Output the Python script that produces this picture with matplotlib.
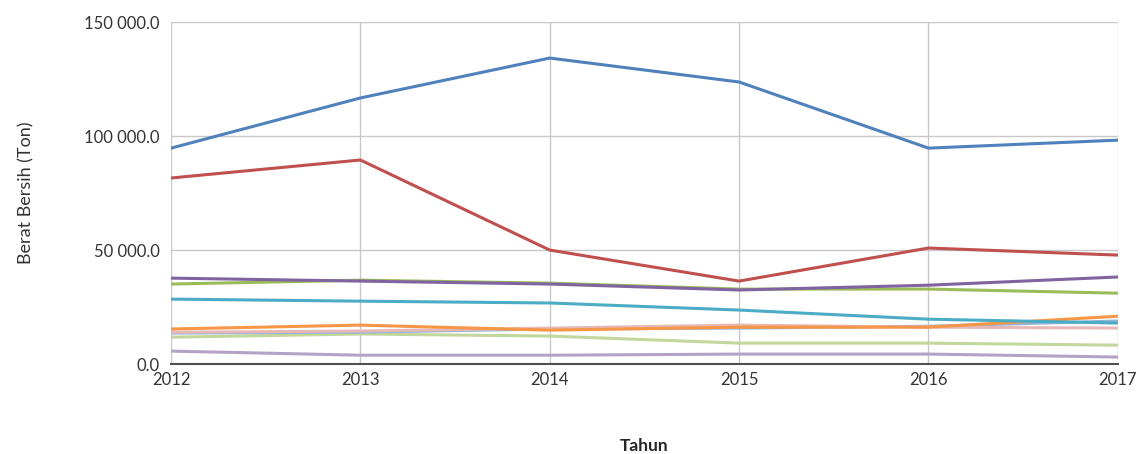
import matplotlib
matplotlib.use('Agg')
import matplotlib.pyplot as plt
from matplotlib.ticker import FuncFormatter

plt.rcParams['font.family'] = ['Lato', 'DejaVu Sans']

# Data
years = [2012, 2013, 2014, 2015, 2016, 2017]

s_blue = [94700, 116700, 134200, 123700, 94700, 98200]
s_red = [81600, 89500, 50000, 36400, 50900, 47800]
s_green = [35100, 36800, 35500, 32900, 32900, 31100]
s_purple = [37700, 36400, 35100, 32500, 34600, 38200]
s_cyan = [28500, 27600, 26800, 23700, 19700, 18000]
s_orange = [15400, 17100, 14900, 16200, 16200, 21000]
s_lblue = [13600, 14000, 15400, 15800, 16600, 18900]
s_lred = [14000, 14500, 15800, 17100, 16200, 15800]
s_lgreen = [11800, 13200, 12300, 9200, 9200, 8300]
s_lpurple = [5700, 3900, 3900, 4400, 4400, 3100]

series = [
    (s_lpurple, '#b3a2c7'),
    (s_lgreen, '#c3d69b'),
    (s_lblue, '#95b3d7'),
    (s_lred, '#e6b9b8'),
    (s_orange, '#f79646'),
    (s_cyan, '#4bacc6'),
    (s_green, '#9bbb59'),
    (s_purple, '#8064a2'),
    (s_red, '#c0504d'),
    (s_blue, '#4f81bd'),
]

fig = plt.figure(figsize=(11.43, 4.54), dpi=100)
ax = fig.add_axes([0.1496, 0.198, 0.8284, 0.7535])

for vals, col in series:
    ax.plot(years, vals, color=col, linewidth=2.2, solid_joinstyle='round')

ax.set_xlim(2012, 2017)
ax.set_ylim(0, 150000)
ax.set_xticks(years)
ax.set_yticks([0, 50000, 100000, 150000])
ax.yaxis.set_major_formatter(FuncFormatter(lambda v, p: f'{v:,.1f}'.replace(',', ' ')))
ax.grid(True, color='#c8c8c8', linewidth=1)
ax.set_axisbelow(True)
for side in ['top', 'right', 'left']:
    ax.spines[side].set_visible(False)
ax.spines['bottom'].set_color('#505050')
ax.spines['bottom'].set_linewidth(1.5)
ax.tick_params(axis='y', length=0, labelsize=12, colors='#333333', pad=8)
ax.tick_params(axis='x', length=0, labelsize=12, colors='#333333', pad=6)

ax.set_xlabel('Tahun', fontsize=12.5, fontweight='bold', labelpad=36, color='#262626')
ax.set_ylabel('Berat Bersih (Ton)', fontsize=13, labelpad=36, color='#333333')

fig.savefig('out.png', dpi=100)
